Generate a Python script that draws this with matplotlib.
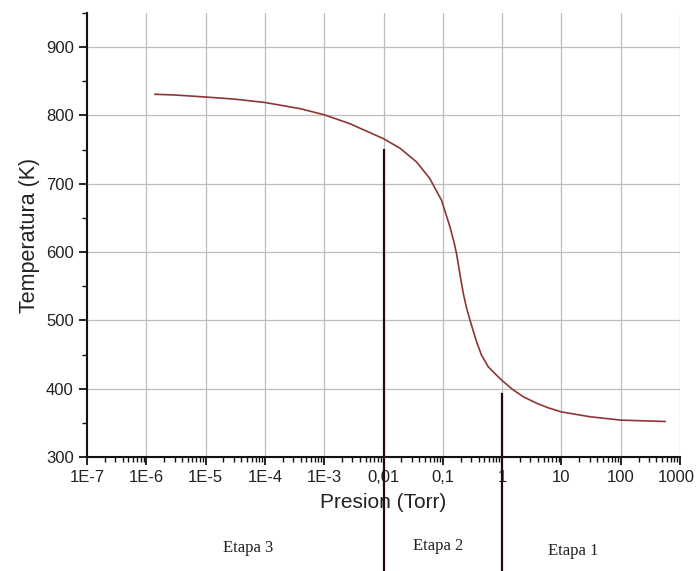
import numpy as np
import matplotlib
matplotlib.use("Agg")
import matplotlib.pyplot as plt
import matplotlib.transforms as mtransforms
from matplotlib.ticker import FixedLocator, LogLocator, MultipleLocator, NullFormatter

# Data
pressure = [1.4e-6, 3e-6, 1e-5, 3e-5, 1e-4, 3.9e-4, 1e-3, 2.7e-3, 0.01, 0.019, 0.036,
            0.060, 0.095, 0.132, 0.155, 0.171, 0.195, 0.221, 0.25, 0.288, 0.37, 0.45, 0.585,
            0.8, 1.0, 1.5, 2.29, 4.0, 6.0, 10.0, 30.0, 100.0, 560.0]
temperature = [831, 830, 827, 824, 819, 810, 801, 788, 766, 752, 732,
               708, 676, 637, 614, 597, 567, 540, 519, 500, 469, 449, 432,
               420, 412, 399, 388, 378, 372, 366, 359, 354, 352]

x_ticks = [1e-7, 1e-6, 1e-5, 1e-4, 1e-3, 1e-2, 1e-1, 1, 10, 100, 1000]
x_tick_labels = ["1E-7", "1E-6", "1E-5", "1E-4", "1E-3", "0,01", "0,1", "1", "10", "100", "1000"]
y_ticks = [300, 400, 500, 600, 700, 800, 900]

stage_x = [0.01, 1.0]
stage_top = [750, 392]
stage_labels = ["Etapa 3", "Etapa 2", "Etapa 1"]

plt.rcParams['font.family'] = ['Liberation Sans', 'DejaVu Sans']

fig = plt.figure(figsize=(6.97, 5.71), dpi=100)
ax = fig.add_axes([87/697, 1-457/571, (680-87)/697, (457-13)/571])

ax.set_xscale('log')
ax.set_xlim(1e-7, 1000)
ax.set_ylim(300, 950)

ax.grid(True, which='major', color='#bdbdbd', linewidth=0.9)
ax.set_axisbelow(True)

ax.plot(pressure, temperature, color='#8e3535', linewidth=1.2, zorder=3)

# stage boundary lines extending below the axes
trans = ax.get_xaxis_transform()
for xs, ts in zip(stage_x, stage_top):
    ytop = (ts - 300) / (950 - 300)
    ax.plot([xs, xs], [-0.26, ytop], transform=trans, color='#2a0808',
            linewidth=1.6, clip_on=False, zorder=4)

for sp in ['top', 'right']:
    ax.spines[sp].set_visible(False)
for sp in ['left', 'bottom']:
    ax.spines[sp].set_linewidth(1.5)
    ax.spines[sp].set_color('#111111')

ax.xaxis.set_major_locator(FixedLocator(x_ticks))
ax.set_xticklabels(x_tick_labels)
ax.xaxis.set_minor_locator(LogLocator(base=10, subs=np.arange(2, 10), numticks=20))
ax.xaxis.set_minor_formatter(NullFormatter())
ax.yaxis.set_major_locator(FixedLocator(y_ticks))
ax.yaxis.set_minor_locator(MultipleLocator(50))

ax.tick_params(which='major', direction='out', length=6, width=1.3, labelsize=12, colors='#111111', labelcolor='#222222')
ax.tick_params(which='minor', direction='out', length=3.5, width=1.0, colors='#111111')
ax.tick_params(axis='x', which='major', pad=3)

# nudge the last x label so it stays inside the figure
last = ax.get_xticklabels()[-1]
last.set_transform(last.get_transform() + mtransforms.ScaledTranslation(-4/100, 0, fig.dpi_scale_trans))

ax.set_xlabel('Presion (Torr)', fontsize=15, color='#222222', labelpad=6)
ax.set_ylabel('Temperatura (K)', fontsize=15.5, color='#222222', labelpad=4)

stage_pos = [248, 438, 573]
stage_ypos = [548, 546, 551]
for lab, px, py in zip(stage_labels, stage_pos, stage_ypos):
    fig.text(px/697, 1-py/571, lab, ha='center', va='center',
             family=['Liberation Serif', 'DejaVu Serif'], fontsize=12, color='#222222')

fig.savefig('out.png', dpi=100)
